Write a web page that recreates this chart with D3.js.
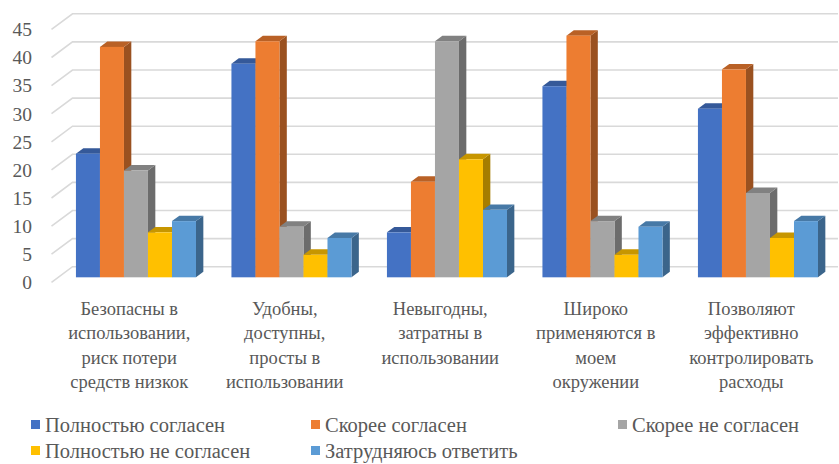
<!DOCTYPE html>
<html>
<head>
<meta charset="utf-8">
<script src="https://cdn.jsdelivr.net/npm/d3@7/dist/d3.min.js"></script>
<style>
  html, body { margin: 0; padding: 0; background: #fff; }
  svg { display: block; }
</style>
</head>
<body>
<svg id="chart" width="839" height="464"></svg>
<script>
// Survey answers per statement (counts)
const categories = [
  "Безопасны в\nиспользовании,\nриск потери\nсредств низкок",
  "Удобны,\nдоступны,\nпросты в\nиспользовании",
  "Невыгодны,\nзатратны в\nиспользовании",
  "Широко\nприменяются в\nмоем\nокружении",
  "Позволяют\nэффективно\nконтролировать\nрасходы"
];
const seriesNames = [
  "Полностью согласен",
  "Скорее согласен",
  "Скорее не согласен",
  "Полностью не согласен",
  "Затрудняюсь ответить"
];
const fullyAgree    = [22, 38, 8, 34, 30];
const ratherAgree   = [41, 42, 17, 43, 37];
const ratherDisagree= [19, 9, 42, 10, 15];
const fullyDisagree = [8, 4, 21, 4, 7];
const hardToSay     = [10, 7, 12, 9, 10];
const seriesValues = [fullyAgree, ratherAgree, ratherDisagree, fullyDisagree, hardToSay];
const colors = ["#4472C4", "#ED7D31", "#A5A5A5", "#FFC000", "#5B9BD5"];
const yTicks = [0, 5, 10, 15, 20, 25, 30, 35, 40, 45];

const FONT = "'Liberation Serif', Tinos, 'Times New Roman', Times, 'DejaVu Serif', serif";
const TEXT_COLOR = "#595959";

const svg = d3.select("#chart");

// Back wall coordinates; the floor recedes by the depth vector below
const y = d3.scaleLinear().domain([0, 45]).range([266.7, 13.8]);
const wallLeft = 72.5, wallRight = 838;
const depth = { dx: -21, dy: 15.6 };          // back wall -> front edge of floor
const barFront = 0.68, barBack = 0.33;        // bar faces as fractions of depth

const x0 = d3.scaleBand().domain(d3.range(categories.length))
  .range([72.5, 850]).paddingInner(0.228).paddingOuter(0.114);
const x1 = d3.scaleBand().domain(d3.range(seriesNames.length))
  .range([0, x0.bandwidth()]);

// Gridlines: along the back wall plus the receding segment on the left side
const grid = svg.append("g").attr("stroke", "#d9d9d9").attr("stroke-width", 1.6).attr("fill", "none");
yTicks.forEach(t => {
  const yy = y(t);
  grid.append("path").attr("d", `M${wallLeft + depth.dx},${yy + depth.dy}L${wallLeft},${yy}L${wallRight},${yy}`);
});

// Value axis labels at the front edge
svg.append("g").selectAll("text").data(yTicks).join("text")
  .attr("x", 32)
  .attr("y", d => y(d) + depth.dy)
  .attr("dy", "0.35em")
  .attr("text-anchor", "end")
  .attr("font-family", FONT)
  .attr("fill", TEXT_COLOR)
  .attr("font-size", 19.5)
  .text(d => d);

// 3D columns, drawn left to right so nearer faces cover farther ones
const fdx = depth.dx * barFront, fdy = depth.dy * barFront;
const bdx = depth.dx * barBack,  bdy = depth.dy * barBack;
const ox = bdx - fdx, oy = bdy - fdy;        // front face -> back face offset

const bars = svg.append("g");
categories.forEach((c, ci) => {
  seriesNames.forEach((s, si) => {
    const v = seriesValues[si][ci];
    const xl = x0(ci) + x1(si) + fdx;
    const xr = xl + x1.bandwidth();
    const yb = y(0) + fdy;
    const yt = y(v) + fdy;
    const base = d3.color(colors[si]);
    const g = bars.append("g");
    g.append("path")
      .attr("d", `M${xr},${yt}L${xr + ox},${yt + oy}L${xr + ox},${yb + oy}L${xr},${yb}Z`)
      .attr("fill", base.darker(1.2));
    g.append("path")
      .attr("d", `M${xl},${yt}L${xl + ox},${yt + oy}L${xr + ox},${yt + oy}L${xr},${yt}Z`)
      .attr("fill", base.darker(0.7));
    g.append("rect")
      .attr("x", xl).attr("y", yt)
      .attr("width", xr - xl).attr("height", yb - yt)
      .attr("fill", colors[si]);
  });
});

// Category labels, centred on the front edge of each group
const catG = svg.append("g").attr("font-size", 18.5).attr("text-anchor", "middle")
  .attr("font-family", FONT).attr("fill", TEXT_COLOR);
categories.forEach((c, ci) => {
  const cx = x0(ci) + x0.bandwidth() / 2 + depth.dx;
  const t = catG.append("text").attr("x", cx).attr("y", 315);
  c.split("\n").forEach((line, li) => {
    t.append("tspan").attr("x", cx).attr("y", 315 + li * 24.4).text(line);
  });
});

// Legend
const legendPos = [[31, 425], [311, 425], [618, 425], [31, 451], [311, 451]];
const leg = svg.append("g").attr("font-family", FONT).attr("fill", TEXT_COLOR);
seriesNames.forEach((s, i) => {
  const [lx, ly] = legendPos[i];
  leg.append("rect").attr("x", lx).attr("y", ly - 5).attr("width", 9).attr("height", 9).attr("fill", colors[i]);
  leg.append("text").attr("x", lx + 14).attr("y", ly).attr("dy", "0.35em")
    .attr("font-size", 20.5).text(s);
});
</script>
</body>
</html>
